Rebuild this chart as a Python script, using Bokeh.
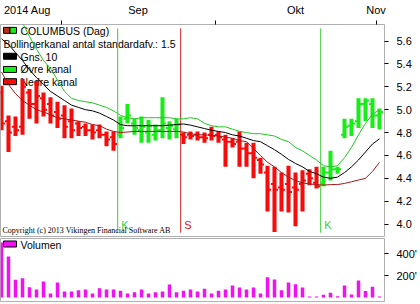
import pandas as pd
from bokeh.plotting import figure
from bokeh.layouts import column
from bokeh.models import Range1d, FixedTicker, PrintfTickFormatter, ColumnDataSource
from bokeh.embed import file_html
from bokeh.resources import INLINE
from bokeh.core.properties import value

# ---------------- data ----------------
dates = pd.bdate_range("2014-08-19", "2014-11-03")   # 55 trading days

high = [5.21, 4.95, 4.94, 5.27, 5.18, 5.25, 5.15, 5.11, 5.07, 5.04,
        5.01, 4.90, 4.88, 4.87, 4.87, 4.81, 4.81, 4.94, 5.05, 4.92,
        4.94, 4.91, 4.87, 5.11, 4.90, 4.92, 4.80, 4.81, 4.81, 4.80,
        4.85, 4.81, 4.78, 4.75, 4.81, 4.71, 4.71, 4.58, 4.51, 4.50,
        4.45, 4.51, 4.45, 4.47, 4.48, 4.50, 4.50, 4.64, 4.50, 4.92,
        4.92, 5.10, 5.10, 5.10, 5.01]
low = [4.82, 4.63, 4.77, 4.78, 4.92, 4.88, 4.94, 4.88, 4.84, 4.75,
       4.75, 4.77, 4.77, 4.74, 4.75, 4.68, 4.64, 4.75, 4.88, 4.78,
       4.71, 4.71, 4.73, 4.75, 4.74, 4.75, 4.70, 4.74, 4.73, 4.71,
       4.73, 4.71, 4.50, 4.67, 4.50, 4.50, 4.40, 4.44, 4.11, 3.93,
       4.11, 4.10, 3.98, 4.11, 4.34, 4.31, 4.33, 4.38, 4.44, 4.75,
       4.77, 4.84, 4.90, 4.84, 4.83]
open_ = [5.15, 4.90, 4.85, 4.85, 5.15, 5.05, 5.10, 5.05, 4.98, 4.95,
         4.90, 4.88, 4.85, 4.82, 4.82, 4.78, 4.76, 4.78, 4.92, 4.88,
         4.82, 4.80, 4.78, 4.82, 4.84, 4.83, 4.78, 4.78, 4.78, 4.76,
         4.78, 4.78, 4.74, 4.72, 4.72, 4.66, 4.62, 4.56, 4.45, 4.35,
         4.32, 4.35, 4.32, 4.35, 4.44, 4.36, 4.36, 4.45, 4.48, 4.78,
         4.86, 4.90, 5.05, 5.05, 4.95]
close = [4.88, 4.80, 4.82, 5.20, 5.05, 5.12, 5.00, 4.95, 4.92, 4.85,
         4.82, 4.84, 4.82, 4.80, 4.78, 4.74, 4.70, 4.84, 4.95, 4.84,
         4.85, 4.86, 4.82, 4.88, 4.86, 4.87, 4.76, 4.77, 4.76, 4.75,
         4.77, 4.76, 4.72, 4.70, 4.66, 4.62, 4.58, 4.52, 4.30, 4.30,
         4.30, 4.28, 4.30, 4.38, 4.40, 4.33, 4.45, 4.48, 4.48, 4.85,
         4.88, 5.05, 5.08, 4.95, 4.98]
ma10 = [5.62, 5.57, 5.50, 5.43, 5.35, 5.28, 5.22, 5.16, 5.12, 5.08,
        5.04, 5.02, 5.00, 4.99, 4.97, 4.94, 4.91, 4.87, 4.86, 4.86,
        4.86, 4.86, 4.86, 4.86, 4.865, 4.87, 4.875, 4.865, 4.85, 4.835,
        4.82, 4.81, 4.80, 4.78, 4.77, 4.75, 4.73, 4.72, 4.685, 4.65,
        4.61, 4.565, 4.53, 4.50, 4.46, 4.44, 4.41, 4.40, 4.41, 4.45,
        4.50, 4.56, 4.63, 4.70, 4.745]
upper = [5.95, 5.93, 5.86, 5.76, 5.64, 5.53, 5.43, 5.36, 5.26, 5.16,
         5.10, 5.08, 5.07, 5.06, 5.04, 5.02, 4.99, 4.95, 4.93, 4.92,
         4.93, 4.93, 4.93, 4.93, 4.93, 4.92, 4.92, 4.93, 4.92, 4.88,
         4.86, 4.85, 4.85, 4.83, 4.81, 4.80, 4.79, 4.79, 4.78, 4.77,
         4.74, 4.72, 4.67, 4.64, 4.60, 4.56, 4.51, 4.50, 4.51, 4.58,
         4.67, 4.78, 4.88, 4.96, 5.00]
lower = [5.33, 5.22, 5.14, 5.08, 5.04, 5.00, 4.98, 4.955, 4.93, 4.92,
         4.91, 4.90, 4.89, 4.87, 4.86, 4.83, 4.81, 4.80, 4.805, 4.81,
         4.81, 4.81, 4.81, 4.81, 4.81, 4.81, 4.805, 4.79, 4.78, 4.78,
         4.775, 4.77, 4.76, 4.75, 4.73, 4.72, 4.66, 4.60, 4.54, 4.50,
         4.45, 4.41, 4.38, 4.36, 4.35, 4.345, 4.34, 4.345, 4.345, 4.355,
         4.37, 4.385, 4.40, 4.46, 4.54]
volume_k = [500, 373, 161, 175, 94, 73, 145, 36, 136, 55,
            55, 66, 73, 36, 85, 73, 73, 61, 36, 48,
            73, 36, 48, 55, 118, 48, 61, 73, 55, 79,
            36, 61, 73, 109, 91, 73, 91, 36, 185, 164,
            67, 136, 121, 91, 9, 9, 24, 43, 12, 109,
            27, 155, 58, 97, 9]
signal_idx = [17, 26, 46]
signal_kind = ["K", "S", "K"]
price_ticks = [4.0, 4.2, 4.4, 4.6, 4.8, 5.0, 5.2, 5.4, 5.6]
volume_ticks = [200, 400]
volume_tick_labels = ["200'", "400'"]
month_abbr = {8: "Aug", 9: "Sep", 10: "Okt", 11: "Nov"}
legend_labels = ["COLUMBUS (Dag)", "Bollingerkanal antal standardafv.: 1.5",
                 "Gns. 10", "Øvre kanal", "Nedre kanal"]
volume_label = "Volumen"
copyright_text = "Copyright (c) 2013 Vikingen Financial Software AB"

# ---------------- styling / layout ----------------
RED = "#f70c0c"
GREEN = "#19ec19"
UPPER_C = "#1ec81e"
LOWER_C = "#a81414"
K_LINE = "#3ccc3c"
S_LINE = "#cc2020"
MAGENTA = "#f012f0"
OUTLINE = "#b0b0b0"
FONT = "Liberation Sans"
SANS = value(FONT)

BAR_PX = 7.0
X0 = -1.0 / BAR_PX
FRAME_W = 384
W = 420
MAIN_TOP = 19
MAIN_H = 237
PRICE_PX = 117.0
y_top = 5.6 + (36 - MAIN_TOP) / PRICE_PX
y_bot = y_top - (MAIN_H - MAIN_TOP) / PRICE_PX

VOL_H = 67
VOL_TOP = 1
VOL_BOTTOM = 3
K_PER_PX = 200.0 / 22.0
v_start = -4 * K_PER_PX
v_end = v_start + (VOL_H - VOL_TOP - VOL_BOTTOM) * K_PER_PX


def px_x(px):
    return X0 + px / BAR_PX


def px_y(py):
    return y_top - (py - MAIN_TOP) / PRICE_PX


def vpx_y(py):
    return v_end - (py - (MAIN_H + VOL_TOP)) * K_PER_PX


n = len(dates)
idx = list(range(n))
sig_map = dict(zip(signal_idx, signal_kind))
colors = []
state = "S"
for i in idx:
    state = sig_map.get(i, state)
    colors.append(GREEN if state == "K" else RED)

x_range = Range1d(X0, X0 + FRAME_W / BAR_PX)

p = figure(width=W, height=MAIN_H, x_range=x_range, y_range=Range1d(y_bot, y_top),
           output_backend="svg", toolbar_location=None,
           x_axis_location="above", y_axis_location="right",
           min_border_left=0, min_border_right=W - FRAME_W,
           min_border_top=MAIN_TOP, min_border_bottom=0)
p.grid.visible = False
p.outline_line_color = OUTLINE
p.background_fill_color = "white"
p.border_fill_color = "white"

# month axis (ticks at month boundaries, labels in between)
months = [d.month for d in dates]
starts = [i for i in idx if i == 0 or months[i] != months[i - 1]]
boundaries = [s - 0.5 for s in starts[1:]]
label_pos, label_txt = [], []
for k, s in enumerate(starts):
    if k == 0:
        pos = px_x(27)
        txt = "%d %s" % (dates[s].year, month_abbr[months[s]])
    elif k == len(starts) - 1:
        pos = s - 0.5
        txt = month_abbr[months[s]]
    else:
        pos = (s - 0.5 + starts[k + 1] - 0.5) / 2
        txt = month_abbr[months[s]]
    label_pos.append(round(pos, 3))
    label_txt.append(txt)

xa = p.xaxis[0]
xa.ticker = FixedTicker(ticks=label_pos, minor_ticks=boundaries)
xa.major_label_overrides = dict(zip(label_pos, label_txt))
xa.axis_line_color = None
xa.major_tick_line_color = None
xa.major_tick_out = 0
xa.major_tick_in = 0
xa.minor_tick_line_color = "black"
xa.minor_tick_out = 4
xa.minor_tick_in = 0
xa.major_label_standoff = 5
xa.major_label_text_font = FONT
xa.major_label_text_font_size = "11px"
xa.major_label_text_color = "black"

ya = p.yaxis[0]
ya.ticker = FixedTicker(ticks=price_ticks)
ya.formatter = PrintfTickFormatter(format="%.1f")
ya.axis_line_color = None
ya.major_tick_out = 4
ya.major_tick_in = 0
ya.major_tick_line_color = "black"
ya.minor_tick_line_color = None
ya.major_label_standoff = 8
ya.major_label_text_font = FONT
ya.major_label_text_font_size = "11px"
ya.major_label_text_color = "black"

# legend (drawn first so marks lie over it, as in the original)
LEG_FS = "10.5px"
ix = px_x(9.5)
p.rect(x=[px_x(6.25)], y=[px_y(25)], width=6.5, height=6, width_units="screen",
       height_units="screen", fill_color="#b83218", line_color="black")
p.rect(x=[px_x(12.75)], y=[px_y(25)], width=6.5, height=6, width_units="screen",
       height_units="screen", fill_color=GREEN, line_color="black")
p.rect(x=[ix, ix, ix], y=[px_y(51.5), px_y(65), px_y(77.5)], width=13, height=6,
       width_units="screen", height_units="screen",
       fill_color=["black", GREEN, RED], line_color="black")
p.text(x=[px_x(20), px_x(3), px_x(20), px_x(20), px_x(20)],
       y=[px_y(25.5), px_y(38.5), px_y(52), px_y(65), px_y(78)],
       text=legend_labels, text_font=SANS, text_font_size=LEG_FS,
       text_color="black", text_baseline="middle", text_align="left")

# signal lines
sig_x = [s - 0.4 for s in signal_idx]
sig_c = [K_LINE if k == "K" else S_LINE for k in signal_kind]
p.segment(x0=sig_x, y0=[px_y(23)] * len(sig_x), x1=sig_x, y1=[px_y(232)] * len(sig_x),
          line_color=sig_c, line_width=1)

# price bars
src = ColumnDataSource(dict(
    x=idx, high=high, low=low, open=open_, close=close, color=colors,
    ox0=[i - 0.5 for i in idx], cx1=[i + 0.5 for i in idx]))
p.vbar(x="x", width=0.58, top="high", bottom="low", fill_color="color",
       line_color=None, source=src)
p.segment(x0="ox0", y0="open", x1="x", y1="open", line_color="color",
          line_width=2, source=src)
p.segment(x0="x", y0="close", x1="cx1", y1="close", line_color="color",
          line_width=2, source=src)

# bollinger lines
p.line(idx, upper, line_color=UPPER_C, line_width=1)
p.line(idx, lower, line_color=LOWER_C, line_width=1)
p.line(idx, ma10, line_color="black", line_width=1)

# signal letters
p.text(x=[s + 3.5 / BAR_PX for s in sig_x], y=[px_y(224)] * len(sig_x), text=signal_kind,
       text_color=sig_c, text_font=SANS, text_font_size="11px",
       text_baseline="middle", text_align="left")

# copyright
p.text(x=[px_x(2)], y=[px_y(230)], text=[copyright_text],
       text_font=value("Liberation Serif"), text_font_size="8px",
       text_color="black", text_baseline="middle", text_align="left")

# ---------------- volume panel ----------------
v = figure(width=W, height=VOL_H, x_range=x_range, y_range=Range1d(v_start, v_end),
           output_backend="svg", toolbar_location=None,
           x_axis_location=None, y_axis_location="right",
           min_border_left=0, min_border_right=W - FRAME_W,
           min_border_top=VOL_TOP, min_border_bottom=VOL_BOTTOM)
v.grid.visible = False
v.outline_line_color = OUTLINE
v.background_fill_color = "white"
v.border_fill_color = "white"

va = v.yaxis[0]
va.ticker = FixedTicker(ticks=volume_ticks)
va.major_label_overrides = dict(zip(volume_ticks, volume_tick_labels))
va.axis_line_color = None
va.major_tick_out = 4
va.major_tick_in = 0
va.major_tick_line_color = "black"
va.minor_tick_line_color = None
va.major_label_standoff = 8
va.major_label_text_font = FONT
va.major_label_text_font_size = "11px"
va.major_label_text_color = "black"

v.rect(x=[ix], y=[vpx_y(243.5)], width=13, height=6, width_units="screen",
       height_units="screen", fill_color=MAGENTA, line_color="black")
v.text(x=[px_x(20)], y=[vpx_y(244)], text=[volume_label], text_font=SANS,
       text_font_size=LEG_FS, text_color="black", text_baseline="middle",
       text_align="left")
v.vbar(x=idx, width=0.5, top=volume_k, bottom=0, fill_color=MAGENTA, line_color=None)

layout = column(p, v, spacing=0)
open("out.html", "w").write(file_html(layout, INLINE))
